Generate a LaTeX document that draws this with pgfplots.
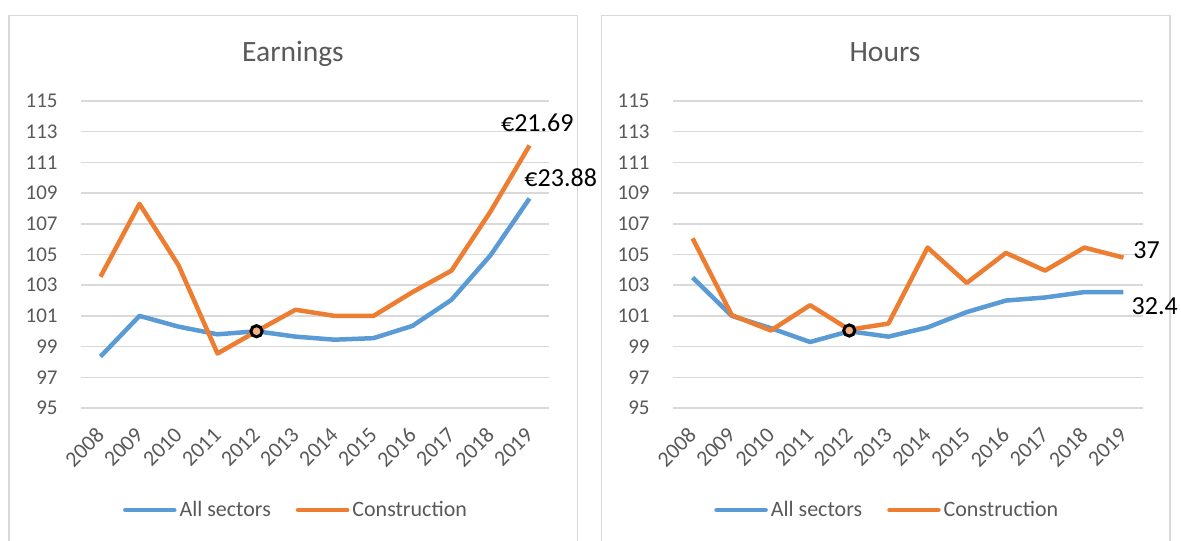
\documentclass[border=0pt]{standalone}
\usepackage{pgfplots}
\pgfplotsset{compat=1.18}
\usepackage{fontspec}
\setmainfont{Carlito}
\definecolor{cblue}{RGB}{91,155,213}
\definecolor{corange}{RGB}{237,125,49}
\definecolor{tgray}{RGB}{89,89,89}
\definecolor{ggray}{RGB}{217,217,217}
\definecolor{bgray}{RGB}{217,217,217}

\tikzset{lab/.style={font=\fontsize{13}{15}\selectfont, text=black}}
\pgfplotsset{
 panel/.style={
  scale only axis, height=153.5pt,
  xmin=-0.5, xmax=11.5, ymin=95, ymax=115,
  xtick={0,...,11},
  xticklabels={2008,2009,2010,2011,2012,2013,2014,2015,2016,2017,2018,2019},
  ytick={95,97,...,115},
  ymajorgrids, major grid style={ggray, line width=0.75pt},
  axis line style={draw=none}, major tick length=0pt,
  tick label style={font=\fontsize{10.5}{12}\selectfont, text=tgray},
  /pgf/number format/assume math mode=true,
  yticklabel style={anchor=east, inner sep=0pt},
  yticklabel shift=11.5pt,
  xticklabel style={rotate=45, anchor=east, inner sep=0pt, font=\fontsize{11}{12}\selectfont},
  xticklabel shift=11.5pt,
  clip=false,
  title style={font=\fontsize{14.75}{16}\selectfont, text=tgray, anchor=base},
  legend columns=2,
  legend style={draw=none, fill=none, font=\fontsize{11}{13}\selectfont, text=tgray,
    /tikz/every even column/.append style={column sep=11pt}, inner sep=0pt,
    nodes={inner sep=1.5pt}},
  legend image code/.code={\draw[#1, line width=2.25pt, line cap=round] (0pt,0pt) -- (24.5pt,0pt);},
 },
 ser/.style={line width=2.25pt, line join=round},
}

\begin{document}
\begin{tikzpicture}
\path[use as bounding box] (0,0) rectangle (590.5pt,270pt);
\draw[bgray, line width=0.75pt] (4.5pt,-5pt) -- (4.5pt,262.15pt) -- (288.75pt,262.15pt) -- (288.75pt,-5pt);
\draw[bgray, line width=0.75pt] (300.8pt,-5pt) -- (300.8pt,262.15pt) -- (585pt,262.15pt) -- (585pt,-5pt);

\begin{axis}[panel, width=234pt, at={(40.5pt,66pt)}, anchor=south west,
  title={Earnings}, title style={at={(axis description cs:0.453,1.091)}},
  legend style={at={(axis description cs:0.4605,-0.332)}, anchor=center}]
\addplot[ser, cblue] coordinates {(0,98.35) (1,101.0) (2,100.3) (3,99.8) (4,100.0) (5,99.65) (6,99.45) (7,99.55) (8,100.35) (9,102.05) (10,104.95) (11,108.65)};
\addlegendentry{All sectors}
\addplot[ser, corange] coordinates {(0,103.55) (1,108.3) (2,104.3) (3,98.55) (4,100.0) (5,101.4) (6,101.0) (7,101.0) (8,102.55) (9,103.95) (10,107.8) (11,112.1)};
\addlegendentry{Construction}
\addplot[only marks, mark=*, mark size=2.8pt, mark options={draw=black, line width=1.5pt, fill=corange!60!white}, forget plot] coordinates {(4,100)};
\node[lab] at (axis cs:11.2,113.6) {€21.69};
\node[lab] at (axis cs:11.8,109.97) {€23.88};
\end{axis}

\begin{axis}[panel, width=235pt, at={(336.5pt,66pt)}, anchor=south west,
  title={Hours}, title style={at={(axis description cs:0.451,1.091)}},
  legend style={at={(axis description cs:0.457,-0.332)}, anchor=center}]
\addplot[ser, cblue] coordinates {(0,103.5) (1,101.0) (2,100.2) (3,99.3) (4,100.0) (5,99.65) (6,100.25) (7,101.25) (8,102.0) (9,102.2) (10,102.55) (11,102.55)};
\addlegendentry{All sectors}
\addplot[ser, corange] coordinates {(0,106.05) (1,101.05) (2,100.05) (3,101.7) (4,100.1) (5,100.5) (6,105.45) (7,103.15) (8,105.1) (9,103.95) (10,105.45) (11,104.8)};
\addlegendentry{Construction}
\addplot[only marks, mark=*, mark size=2.8pt, mark options={draw=black, line width=1.5pt, fill=corange!60!white}, forget plot] coordinates {(4,100.05)};
\node[lab] at (axis cs:11.59,105.29) {37};
\node[lab] at (axis cs:11.8,101.64) {32.4};
\end{axis}
\end{tikzpicture}
\end{document}
